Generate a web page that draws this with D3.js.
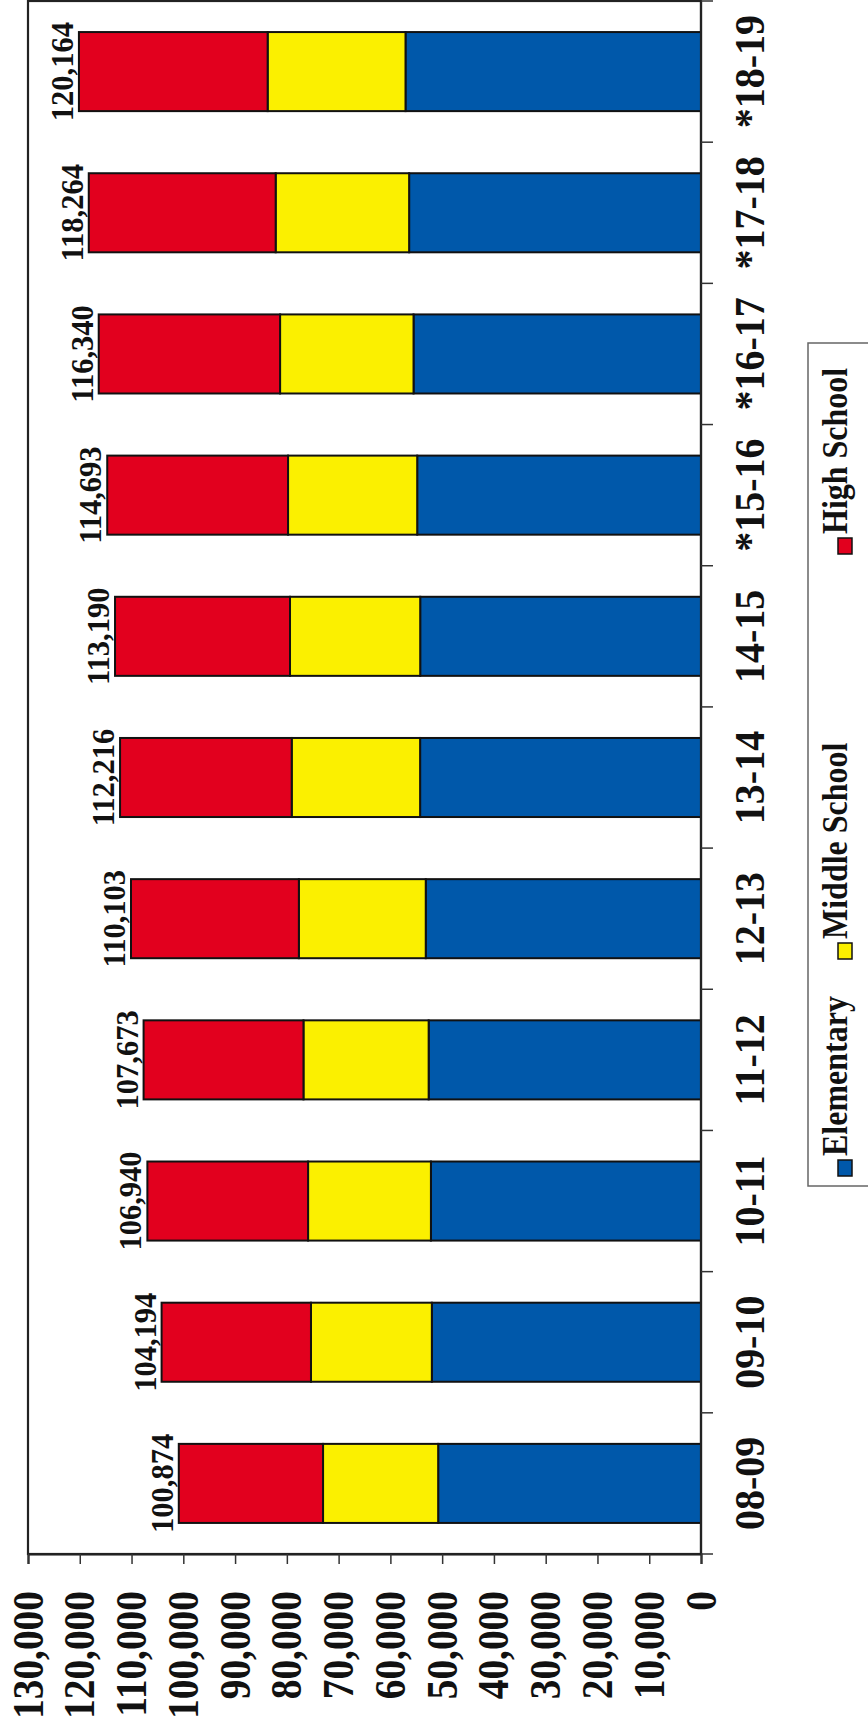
<!DOCTYPE html>
<html>
<head>
<meta charset="utf-8">
<script src="https://cdn.jsdelivr.net/npm/d3@7/dist/d3.min.js"></script>
<style>
  html, body { margin: 0; padding: 0; background: #ffffff; }
  svg { display: block; }
  text { font-family: "Liberation Serif", "Times New Roman", serif; font-weight: bold; fill: #111; }
</style>
</head>
<body>
<svg id="chart" width="868" height="1730"></svg>
<script>
// School years and enrollment by level
const years = ["08-09", "09-10", "10-11", "11-12", "12-13", "13-14", "14-15", "*15-16", "*16-17", "*17-18", "*18-19"];
const elementary = [50770, 51990, 52170, 52610, 53170, 54260, 54240, 54820, 55530, 56380, 57080];
const middle     = [22240, 23350, 23730, 24180, 24510, 24800, 25150, 24950, 25780, 25780, 26630];
const high       = [27864, 28854, 31040, 30883, 32423, 33156, 33800, 34923, 35030, 36104, 36454];
const totals     = [100874, 104194, 106940, 107673, 110103, 112216, 113190, 114693, 116340, 118264, 120164];
const valueTicks = [0, 10000, 20000, 30000, 40000, 50000, 60000, 70000, 80000, 90000, 100000, 110000, 120000, 130000];
const seriesNames = ["Elementary", "Middle School", "High School"];
const seriesKeys = ["elementary", "middle", "high"];
const seriesColors = ["#0058aa", "#fbf000", "#e2001e"];

const rows = years.map((y, i) => ({ year: y, elementary: elementary[i], middle: middle[i], high: high[i], total: totals[i] }));

const svg = d3.select("#chart");

// Plot area: values run right-to-left, years run bottom-to-top (chart turned on its side)
const plot = { left: 28, right: 701, top: 1, bottom: 1554 };

const x = d3.scaleLinear().domain([0, 130000]).range([plot.right, plot.left]);
const y = d3.scaleBand().domain(years).range([plot.bottom, plot.top]).paddingInner(0.44).paddingOuter(0.22);

const stack = d3.stack().keys(seriesKeys);
const layers = stack(rows);

// Frame
svg.append("rect")
  .attr("x", plot.left).attr("y", plot.top)
  .attr("width", plot.right - plot.left).attr("height", plot.bottom - plot.top)
  .attr("fill", "#fff").attr("stroke", "#222").attr("stroke-width", 2.2);

// Stacked bars
svg.append("g").selectAll("g")
  .data(layers)
  .join("g")
  .attr("fill", (d, i) => seriesColors[i])
  .selectAll("rect")
  .data(d => d)
  .join("rect")
  .attr("x", d => x(d[1]))
  .attr("y", d => y(d.data.year))
  .attr("width", d => x(d[0]) - x(d[1]))
  .attr("height", y.bandwidth())
  .attr("stroke", "#111")
  .attr("stroke-width", 2);

// Total labels at the end of each bar
svg.append("g").selectAll("text")
  .data(rows)
  .join("text")
  .attr("transform", d => `translate(${x(d.total) - 6},${y(d.year) + y.bandwidth() / 2}) rotate(-90) scale(1,1.05)`)
  .attr("text-anchor", "middle")
  .style("font-size", "30.5px")
  .text(d => d3.format(",")(d.total));

// Value axis along the bottom edge
const xAxis = d3.axisBottom(x).tickValues(valueTicks).tickSize(10).tickFormat(d3.format(","));
const gx = svg.append("g").attr("transform", `translate(0,${plot.bottom})`).call(xAxis);
gx.select(".domain").attr("stroke", "#222").attr("stroke-width", 2.2);
gx.selectAll(".tick line").attr("stroke", "#333").attr("stroke-width", 1.5);
gx.selectAll(".tick text")
  .attr("y", null).attr("dy", null)
  .attr("text-anchor", "end")
  .attr("transform", "translate(14,37) rotate(-90) scale(1,1.13)")
  .style("font-size", "39.4px")
  .attr("fill", "#111");

// Year axis along the right edge, ticks between categories
const step = y.step();
const bounds = years.map(c => y(c) + y.bandwidth() / 2 + step / 2).concat([y(years[years.length - 1]) + y.bandwidth() / 2 - step / 2]);
const gy = svg.append("g");
gy.append("line")
  .attr("x1", plot.right).attr("x2", plot.right)
  .attr("y1", plot.top).attr("y2", plot.bottom)
  .attr("stroke", "#222").attr("stroke-width", 2.2);
gy.selectAll("line.tick")
  .data(bounds)
  .join("line")
  .attr("class", "tick")
  .attr("x1", plot.right).attr("x2", plot.right + 12)
  .attr("y1", d => d).attr("y2", d => d)
  .attr("stroke", "#333").attr("stroke-width", 1.5);
gy.selectAll("text")
  .data(years)
  .join("text")
  .attr("transform", c => `translate(764,${y(c) + y.bandwidth() / 2}) rotate(-90) scale(1,1.07)`)
  .attr("text-anchor", "middle")
  .style("font-size", "40px")
  .text(c => c);

// Legend
const legend = svg.append("g");
legend.append("rect")
  .attr("x", 808).attr("y", 343).attr("width", 80).attr("height", 843)
  .attr("fill", "#fff").attr("stroke", "#666").attr("stroke-width", 1.5);
const legendPos = [1168, 951, 546];
const item = legend.selectAll("g.item")
  .data(seriesNames)
  .join("g")
  .attr("class", "item");
item.append("rect")
  .attr("x", 838).attr("y", (d, i) => legendPos[i] - 8)
  .attr("width", 14).attr("height", 16)
  .attr("fill", (d, i) => seriesColors[i])
  .attr("stroke", "#111").attr("stroke-width", 1.5);
item.append("text")
  .attr("transform", (d, i) => `translate(847,${legendPos[i] - 12}) rotate(-90) scale(1,1.12)`)
  .attr("text-anchor", "start")
  .style("font-size", "32px")
  .text(d => d);
</script>
</body>
</html>
